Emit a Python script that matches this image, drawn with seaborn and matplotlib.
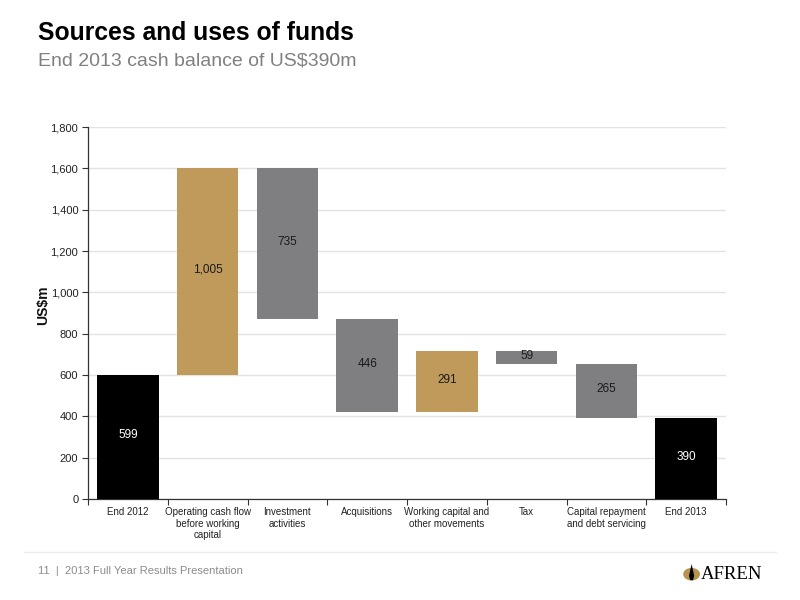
import matplotlib
matplotlib.use("Agg")
import matplotlib.pyplot as plt
import seaborn as sns
import numpy as np
import pandas as pd
from matplotlib.patches import Circle, Polygon
from matplotlib.lines import Line2D

categories = ["End 2012", "Operating cash flow\nbefore working\ncapital", "Investment\nactivities",
              "Acquisitions", "Working capital and\nother movements", "Tax",
              "Capital repayment\nand debt servicing", "End 2013"]
values = [599, 1005, -735, -446, 291, -59, -265, 390]
kinds = ["total", "up", "down", "down", "up", "down", "down", "total"]
yticks = [0, 200, 400, 600, 800, 1000, 1200, 1400, 1600, 1800]

colors = {"total": "#000000", "up": "#C09A5A", "down": "#7F7F82"}
label_colors = {"total": "#FFFFFF", "up": "#1A1A1A", "down": "#1A1A1A"}

# waterfall bottoms / heights
bottoms, heights = [], []
running = 0
for v, k in zip(values, kinds):
    if k == "total":
        bottoms.append(0)
        heights.append(v)
        running = v
    elif v >= 0:
        bottoms.append(running)
        heights.append(v)
        running += v
    else:
        bottoms.append(running + v)
        heights.append(-v)
        running += v

df = pd.DataFrame({"cat": categories, "height": heights, "bottom": bottoms, "kind": kinds})

sns.set_theme(style="white")
plt.rcParams["font.family"] = ["Liberation Sans", "DejaVu Sans"]

fig = plt.figure(figsize=(8, 6), dpi=100)
ax = fig.add_axes([0.11, 0.1683, 0.7975, 0.62])

sns.barplot(data=df, x="cat", y="height", order=categories, bottom=df["bottom"].values,
            width=0.77, color="#7F7F82", ax=ax, zorder=3, errorbar=None, linewidth=0)

for p, k in zip(ax.patches, kinds):
    p.set_facecolor(colors[k])
    p.set_edgecolor(colors[k])

for i, (b, h, v, k) in enumerate(zip(bottoms, heights, values, kinds)):
    ax.text(i, b + h / 2 + 8, f"{abs(v):,}", ha="center", va="center",
            fontsize=8.5, color=label_colors[k], zorder=4)

ax.set_xlim(-0.5, len(categories) - 0.5)
ax.set_ylim(0, 1800)
ax.set_yticks(yticks)
ax.set_yticklabels([f"{t:,}" for t in yticks], fontsize=8, color="#222222")
ax.set_xticks(range(len(categories)))
ax.set_xticklabels(categories, fontsize=7, color="#222222", linespacing=1.15)
ax.tick_params(axis="x", length=0, pad=6)
ax.tick_params(axis="y", length=4, width=0.8, color="#333333", pad=3, left=True)
ax.set_xticks(np.arange(-0.5, len(categories) + 0.5, 1), minor=True)
ax.tick_params(axis="x", which="minor", length=4, width=0.8, color="#333333", bottom=True)
ax.set_xlabel("")
ax.set_ylabel("US$m", fontsize=10, fontweight="bold", color="#111111", labelpad=8)
ax.yaxis.set_label_coords(-0.06, 0.52)

ax.yaxis.grid(True, color="#E3E3E3", linewidth=1, zorder=0)
ax.set_axisbelow(True)
for s in ["top", "right"]:
    ax.spines[s].set_visible(False)
for s in ["left", "bottom"]:
    ax.spines[s].set_color("#333333")
    ax.spines[s].set_linewidth(0.9)

# titles
fig.text(0.047, 0.945, "Sources and uses of funds", fontsize=17.8, fontweight="bold",
         color="#000000", ha="left", va="center")
fig.text(0.047, 0.899, "End 2013 cash balance of US$390m", fontsize=14,
         color="#808080", ha="left", va="center")

# footer
fig.add_artist(Line2D([0.03, 0.97], [0.08, 0.08], color="#EBEBEB", linewidth=1))
fig.text(0.047, 0.049, "11  |  2013 Full Year Results Presentation", fontsize=8,
         color="#8C8C8C", ha="left", va="center")

# logo
fig.add_artist(Circle((0.8645, 0.043), 0.0105, transform=fig.transFigure,
                      facecolor="#B8924F", edgecolor="none"))
fig.add_artist(Polygon([[0.8645, 0.060], [0.8612, 0.040], [0.8628, 0.033], [0.8662, 0.033], [0.8678, 0.040]],
                       closed=True, transform=fig.transFigure, facecolor="#000000", edgecolor="none"))
fig.text(0.876, 0.043, "AFREN", fontsize=13.5, family=["Liberation Serif", "DejaVu Serif"],
         color="#000000", ha="left", va="center")

fig.savefig("out.png", dpi=100)
